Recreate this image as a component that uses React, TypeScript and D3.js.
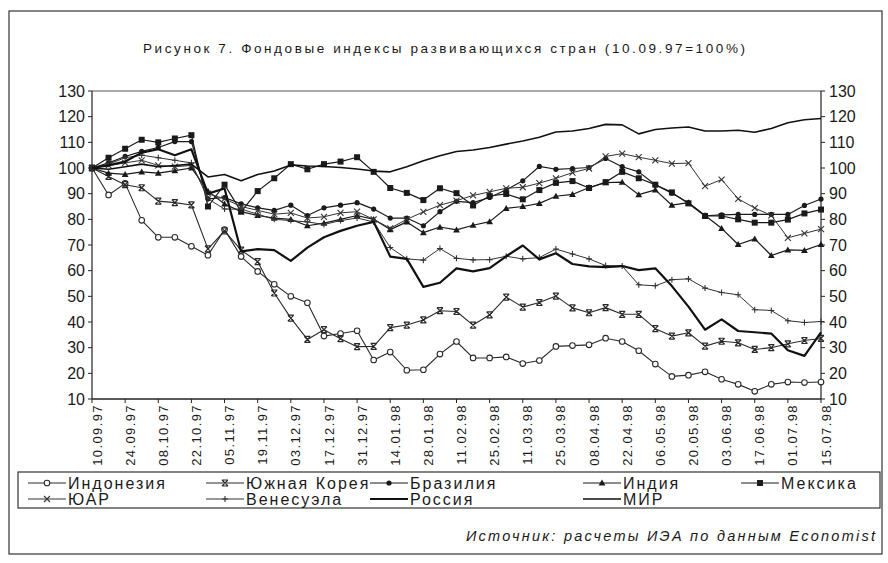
import React from "react";
import * as d3 from "d3";

const dates = ["10.09.97","17.09.97","24.09.97","01.10.97","08.10.97","15.10.97","22.10.97","29.10.97","05.11.97","12.11.97","19.11.97","26.11.97","03.12.97","10.12.97","17.12.97","24.12.97","31.12.97","07.01.98","14.01.98","21.01.98","28.01.98","04.02.98","11.02.98","18.02.98","25.02.98","04.03.98","11.03.98","18.03.98","25.03.98","01.04.98","08.04.98","15.04.98","22.04.98","29.04.98","06.05.98","13.05.98","20.05.98","27.05.98","03.06.98","10.06.98","17.06.98","24.06.98","01.07.98","08.07.98","15.07.98"];

const tickLabels = ["10.09.97","24.09.97","08.10.97","22.10.97","05.11.97","19.11.97","03.12.97","17.12.97","31.12.97","14.01.98","28.01.98","11.02.98","25.02.98","11.03.98","25.03.98","08.04.98","22.04.98","06.05.98","20.05.98","03.06.98","17.06.98","01.07.98","15.07.98"];

const yTicks = [10, 20, 30, 40, 50, 60, 70, 80, 90, 100, 110, 120, 130];

const indonesia = [100,89.5,94,79.6,73,73,69.5,66,76,65.5,59.7,54.7,50,47.5,34.5,35.5,36.6,25.2,28.3,21.2,21.4,27.5,32.4,26,26,26.4,23.8,25,30.5,30.8,31.1,33.7,32.4,28.8,23.6,18.8,19.3,20.6,17.7,15.7,13,15.7,16.6,16.4,16.6];
const korea = [100,96.7,93.5,92.3,87.1,86.5,85.6,68.5,75.5,68,63.5,51.3,41.5,33.2,37,33.5,30.4,30.5,37.8,38.8,40.8,44.4,44.1,38.8,42.8,49.7,45.8,47.6,50.1,45.5,43.6,45.6,43,43,37.4,34.5,35.8,30.6,32.5,31.9,29.3,30,31.5,32.8,33.6];
const brazil = [100,102,104.5,106.5,108,110.3,110.3,88,88.5,86,84.5,83.5,85.5,81.5,84.5,85.5,86.5,84,80.5,80.5,77.5,83,87,86.5,88.5,91.5,95,100.6,99.5,99.8,100.2,103.7,100.5,98.5,93.5,90.2,86.5,81.4,81.7,81.9,81.9,81.9,81.9,85.4,87.9];
const india = [100,98,97.5,98.5,98,99,100,91,86,83,81.5,80.5,80,77.5,78.5,80,81.5,80,76,79,74.8,77,75.9,77.7,79.1,84.3,85,86.2,89,89.7,92.4,94.3,94.5,89.6,91.5,85.5,86.5,81.5,76.5,70.2,72.4,65.9,68.1,67.9,70.2];
const mexico = [100,104,107.5,111,110,111.5,112.8,85,93.5,83,91,96,101.5,99.5,101.5,102.5,104.2,98.5,92.2,90.3,87.5,92.1,90.2,85.4,89.1,89.9,87.8,91.4,94.2,94.9,92.2,94.5,98.5,96,93.5,90.5,86.2,81.3,81.3,80,78.7,78.7,79.9,82.3,83.8];
const southAfrica = [100,101,102,103,101,100.5,101,90,88,85,83.5,82,82.5,80.5,81,82.5,83,80,76.5,80,82.9,85.5,87.3,89.3,90.7,92.1,92.5,94.1,96,98.2,99.8,104.5,105.6,104.2,103,101.7,101.9,92.9,95.5,88,84.4,81.5,72.8,74.5,76.2];
const venezuela = [100,101.5,104,105,104,103,102,88,84,84,82,80,79.5,79,78,79.5,80.5,79,69,64.6,64.1,68.6,64.8,64.2,64.3,65.6,64.6,65.1,68.4,66.5,64.6,62,61.8,54.5,54.1,56.5,56.8,53.2,51.5,50.6,44.8,44.5,40.5,39.8,40.2];
const russia = [100,101,102.5,106,107.3,105,107.3,90,92,67.5,68.4,68,63.8,69,73,75.5,77.5,79,65.5,64.6,53.7,55.3,60.9,59.7,61,65.6,69.8,64.4,66.8,62.6,61.7,61.4,61.8,60.2,60.9,54,46,37,41,36.5,36,35.5,29,26.8,36];
const world = [100,99.5,100.5,101.5,100.5,101,101.5,96.5,97.5,95,97.5,98.8,101.2,100.8,100.6,100.2,99.6,98.8,98.5,100.5,102.8,104.8,106.4,107,108,109.3,110.5,112,114,114.4,115.4,117,116.8,113.3,115,115.6,116,114.4,114.4,114.7,113.9,115.4,117.6,118.8,119.3];

type Marker = "circleOpen" | "dot" | "triangle" | "square" | "cross" | "plus" | "star" | "none";

const series: { name: string; values: number[]; marker: Marker; width: number; color: string }[] = [
  { name: "Индонезия", values: indonesia, marker: "circleOpen", width: 1.1, color: "#2a2a2a" },
  { name: "Южная Корея", values: korea, marker: "star", width: 1.1, color: "#2a2a2a" },
  { name: "Бразилия", values: brazil, marker: "dot", width: 1.2, color: "#1a1a1a" },
  { name: "Индия", values: india, marker: "triangle", width: 1.2, color: "#1a1a1a" },
  { name: "Мексика", values: mexico, marker: "square", width: 1.2, color: "#1a1a1a" },
  { name: "ЮАР", values: southAfrica, marker: "cross", width: 1.0, color: "#333" },
  { name: "Венесуэла", values: venezuela, marker: "plus", width: 1.0, color: "#333" },
  { name: "Россия", values: russia, marker: "none", width: 2.2, color: "#111" },
  { name: "МИР", values: world, marker: "none", width: 1.6, color: "#111" },
];

const W = 888, H = 563;
const left = 92, right = 821, top = 91, bottom = 399;
const FONT = "'Liberation Sans', Arial, sans-serif";

function drawMarker(type: Marker, x: number, y: number, color: string, key: string | number) {
  const s = 3;
  switch (type) {
    case "circleOpen":
      return <circle key={key} cx={x} cy={y} r={2.8} fill="#fff" stroke={color} strokeWidth={1.1} />;
    case "dot":
      return <circle key={key} cx={x} cy={y} r={2.6} fill={color} />;
    case "triangle":
      return <path key={key} d={`M${x},${y - 3.4}L${x + 3.4},${y + 2.6}L${x - 3.4},${y + 2.6}Z`} fill={color} />;
    case "square":
      return <rect key={key} x={x - 3} y={y - 3} width={6} height={6} fill={color} />;
    case "cross":
      return <path key={key} d={`M${x - s},${y - s}L${x + s},${y + s}M${x - s},${y + s}L${x + s},${y - s}`} stroke={color} strokeWidth={1.1} />;
    case "plus":
      return <path key={key} d={`M${x - s},${y}L${x + s},${y}M${x},${y - s}L${x},${y + s}`} stroke={color} strokeWidth={1.1} />;
    case "star":
      return <path key={key} d={`M${x - s},${y - s}L${x + s},${y + s}M${x - s},${y + s}L${x + s},${y - s}M${x - s},${y - s}L${x + s},${y - s}M${x - s},${y + s}L${x + s},${y + s}`} stroke={color} strokeWidth={1.2} />;
    default:
      return null;
  }
}

export default function App() {
  const x = d3.scalePoint<string>().domain(dates).range([left, right]);
  const y = d3.scaleLinear().domain([10, 130]).range([bottom, top]);
  const line = d3.line<number>().x((_, i) => x(dates[i]) as number).y((d) => y(d));

  const legendCols = [28, 206, 370, 583, 741];
  const legendRows = [483, 499];

  return (
    <svg width={W} height={H} style={{ position: "absolute", left: 0, top: 0, background: "#fff" }} fontFamily={FONT}>
      <rect x={0} y={0} width={W} height={H} fill="#fff" />
      {/* outer frame */}
      <rect x={9} y={11} width={873} height={543} fill="none" stroke="#333" strokeWidth={1.2} />

      {/* title */}
      <text x={143} y={53} fontSize={13.5} textLength={602} lengthAdjust="spacing" fill="#1a1a1a">
        Рисунок 7. Фондовые индексы развивающихся стран (10.09.97=100%)
      </text>

      {/* plot frame */}
      <line x1={left} x2={right} y1={top} y2={top} stroke="#555" strokeWidth={1} />
      <line x1={left} x2={left} y1={top} y2={bottom} stroke="#222" strokeWidth={1.2} />
      <line x1={right} x2={right} y1={top} y2={bottom} stroke="#222" strokeWidth={1.2} />
      <line x1={left} x2={right} y1={bottom} y2={bottom} stroke="#222" strokeWidth={1.4} />

      {/* y ticks & labels */}
      {yTicks.map((t) => (
        <g key={t}>
          <line x1={left - 4} x2={left} y1={y(t)} y2={y(t)} stroke="#222" />
          <line x1={right} x2={right + 4} y1={y(t)} y2={y(t)} stroke="#222" />
          <text x={left - 7} y={y(t)} dy="0.35em" textAnchor="end" fontSize={16} fill="#1a1a1a">{t}</text>
          <text x={right + 8} y={y(t)} dy="0.35em" textAnchor="start" fontSize={16} fill="#1a1a1a">{t}</text>
        </g>
      ))}

      {/* x ticks & labels */}
      {tickLabels.map((lab) => {
        const px = x(lab) as number;
        return (
          <g key={lab}>
            <line x1={px} x2={px} y1={bottom} y2={bottom + 4} stroke="#222" />
            <text
              transform={`translate(${px + 5},${bottom + 5}) rotate(-90)`}
              textAnchor="end"
              dy="0.35em"
              fontSize={13}
              letterSpacing={1.4}
              fill="#1a1a1a"
            >
              {lab}
            </text>
          </g>
        );
      })}

      {/* series */}
      {series.map((s) => (
        <g key={s.name}>
          <path d={line(s.values) || ""} fill="none" stroke={s.color} strokeWidth={s.width} strokeLinejoin="round" />
          {s.values.map((v, i) => drawMarker(s.marker, x(dates[i]) as number, y(v), s.color, i))}
        </g>
      ))}

      {/* legend */}
      <rect x={18} y={472} width={862} height={36} fill="#fff" stroke="#333" strokeWidth={1.2} />
      {series.map((s, k) => {
        const col = k < 5 ? k : k - 5;
        const row = k < 5 ? 0 : 1;
        const lx = legendCols[col];
        const ly = legendRows[row];
        return (
          <g key={"lg" + s.name}>
            <line x1={lx} x2={lx + 38} y1={ly} y2={ly} stroke={s.color} strokeWidth={s.width} />
            {drawMarker(s.marker, lx + 19, ly, s.color, "m")}
            <text x={lx + 40} y={ly} dy="0.36em" fontSize={16} letterSpacing={2} fill="#1a1a1a">{s.name}</text>
          </g>
        );
      })}

      {/* source */}
      <text x={466} y={541} fontSize={14.5} fontStyle="italic" textLength={409} lengthAdjust="spacing" fill="#1a1a1a">
        Источник: расчеты ИЭА по данным Economist
      </text>
    </svg>
  );
}
